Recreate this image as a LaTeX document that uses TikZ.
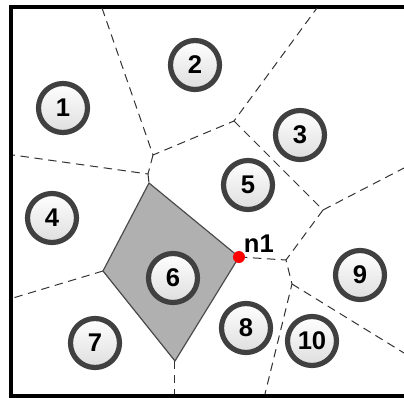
\documentclass[tikz,border=0pt]{standalone}
\usepackage{fontspec}
\setmainfont{Liberation Sans}
\usetikzlibrary{shadows}
\definecolor{ringgray}{HTML}{404040}
\definecolor{cellgray}{HTML}{B0B0B0}

\begin{document}
\begin{tikzpicture}[x=0.5pt,y=-0.5pt,
  site/.style={circle,draw=ringgray,line width=2.6pt,minimum size=24.5pt,inner sep=0pt,
    top color=white,bottom color=black!13,font=\fontsize{12.8}{13}\selectfont\bfseries,
    drop shadow={opacity=0.3,shadow xshift=0.7pt,shadow yshift=-0.7pt}},
  vedge/.style={draw=black!80,line width=0.5pt,dash pattern=on 4.2pt off 2.8pt},
  cell/.style={fill=cellgray,draw=black!70,line width=0.6pt,line join=round}]
\useasboundingbox (0,0) rectangle (404,398);
% frame (open on the right)
\draw[line width=2pt] (404,6.5) -- (11,6.5) -- (11,395.5) -- (404,395.5);
% voronoi vertices
\coordinate (vA) at (153,155);
\coordinate (vB) at (234,121);
\coordinate (vC) at (148,174);
\coordinate (vD) at (323,210);
\coordinate (vE) at (286,260);
\coordinate (vF) at (292,284);
% vertices of cell 6
\coordinate (p1) at (149,183);
\coordinate (p2) at (103,271);
\coordinate (p3) at (175,361);
\coordinate (vN) at (239,257);
% free ends on the frame
\coordinate (tA) at (102,8);
\coordinate (tB) at (317,8);
\coordinate (lC) at (13,155);
\coordinate (lP) at (13,298);
\coordinate (bP) at (175,394);
\coordinate (bF) at (265,394);
\coordinate (rD) at (404,168);
\coordinate (rF) at (404,353);
% highlighted cell
\path[cell] (p1) -- (p2) -- (p3) -- (vN) -- cycle;
% dashed edges
\draw[vedge] (tA) -- (vA) -- (vB) -- (tB);
\draw[vedge] (vA) -- (vC) -- (lC);
\draw[vedge] (vC) -- (p1);
\draw[vedge] (vB) -- (vD) -- (rD);
\draw[vedge] (vD) -- (vE) -- (vF) -- (bF);
\draw[vedge] (vF) -- (rF);
\draw[vedge] (vN) -- (vE);
\draw[vedge] (p2) -- (lP);
\draw[vedge] (p3) -- (bP);
% sites
\node[site] (s1) at (63,108) {1};
\node[site] (s2) at (195,65) {2};
\node[site] (s3) at (300,135) {3};
\node[site] (s4) at (52,218) {4};
\node[site] (s5) at (248,185) {5};
\node[site] (s6) at (173,278) {6};
\node[site] (s7) at (95,343) {7};
\node[site] (s8) at (246,328) {8};
\node[site] (s9) at (360,275) {9};
\node[site] (s10) at (312,341) {10};
% point n1
\node[circle,fill=red,inner sep=0pt,minimum size=6pt,
  label={[font=\fontsize{12.8}{13}\selectfont\bfseries,inner sep=0pt]above right:n1}] (n1) at (vN) {};
\end{tikzpicture}
\end{document}
